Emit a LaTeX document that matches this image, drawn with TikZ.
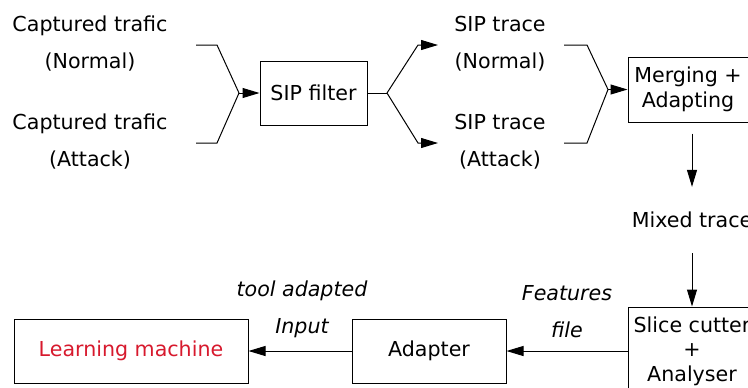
\documentclass[tikz,border=0pt]{standalone}
\usepackage{fontspec}
\setmainfont{DejaVu Sans}
\usetikzlibrary{arrows.meta}
\definecolor{lmred}{RGB}{215,25,45}

\begin{document}
\begin{tikzpicture}[x=0.5pt,y=-0.5pt,>={Triangle[length=8.5pt,width=5pt]},line width=0.5pt,
  font=\fontsize{10.3}{12.3}\selectfont,
  box/.style={draw,align=center,inner sep=0pt},
  lbl/.style={align=center,font=\fontsize{10.3}{18.5}\selectfont},
  itlbl/.style={align=center,font=\fontsize{10.3}{18.5}\selectfont\itshape}]
\useasboundingbox (0,0) rectangle (748,387);
\clip (0,0) rectangle (748,387);
% inputs and filter
\node[lbl] (cap_n) at (90,44) {Captured trafic\\(Normal)};
\node[lbl] (cap_a) at (90,142) {Captured trafic\\(Attack)};
\node[box,minimum width=53.5pt,minimum height=32pt] (filter) at (313.5,93) {SIP filter};
\node[lbl] (trace_n) at (500,44) {SIP trace\\(Normal)};
\node[lbl] (trace_a) at (500,142) {SIP trace\\(Attack)};
\node[box,minimum width=60pt,minimum height=32.5pt] (merge) at (688,89.5) {Merging +\\Adapting};
\node[lbl] (mixed) at (692,220) {Mixed trace};
% bottom row
\node[box,minimum width=64pt,minimum height=44pt] (slice) at (692,351) {Slice cutter\\+\\Analyser};
\node[box,minimum width=77pt,minimum height=32pt] (adapter) at (429,351) {Adapter};
\node[box,minimum width=117pt,minimum height=32pt,text=lmred] (learn) at (131,351) {Learning machine};
\node[itlbl] (feat) at (567,311.5) {Features\\file};
\node[itlbl] (tool) at (302,309.5) {tool adapted\\Input};

\coordinate (in_n) at (196,45);
\coordinate (in_a) at (196,143);
\coordinate (j1) at (239,93);
\coordinate (split) at (387,93);
\coordinate (up) at (418,45);
\coordinate (down) at (418,143);
\coordinate (tip_n) at (438,45);
\coordinate (tip_a) at (438,143);
\coordinate (out_n) at (564,45);
\coordinate (out_a) at (564,143);
\coordinate (j2) at (608,89.5);

\draw (in_n) -- ++(21,0) -- (j1);
\draw (in_a) -- ++(21,0) -- (j1);
\draw[->] (j1) -- (filter.west);
\draw (filter.east) -- (split);
\draw[->] (split) -- (up) -- (tip_n);
\draw[->] (split) -- (down) -- (tip_a);
\draw (out_n) -- ++(23,0) -- (j2);
\draw (out_a) -- ++(23,0) -- (j2);
\draw[->] (j2) -- (merge.west);
\draw[->] ([yshift=-5.5pt]merge.south -| mixed.north) -- ([yshift=9pt]mixed.north);
\draw[->] ([yshift=-9pt]mixed.south) -- (slice.north);
\draw[->] (slice.west) -- (adapter.east);
\draw[->] (adapter.west) -- (learn.east);
\end{tikzpicture}
\end{document}
